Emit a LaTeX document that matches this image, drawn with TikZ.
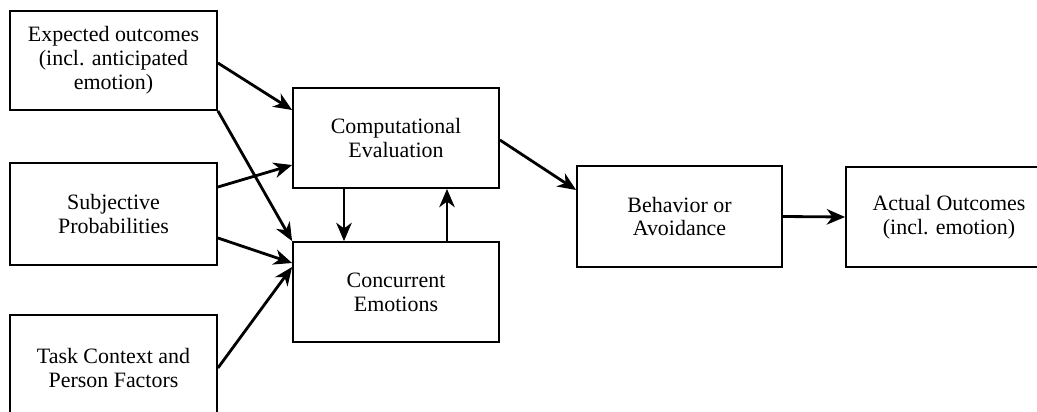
\documentclass[tikz,border=0pt]{standalone}
\usepackage{fontspec}
\setmainfont{Liberation Serif}
\usetikzlibrary{calc,arrows.meta}
\begin{document}
\begin{tikzpicture}[x=0.025cm,y=-0.025cm,
  box/.style={draw,line width=1.3pt,inner sep=0pt,align=center,font=\fontsize{15.6}{17}\selectfont},
  arr/.style={line width=2pt,-{Stealth[length=13pt,width=11pt,inset=4pt]}}]
\useasboundingbox (0,0) rectangle (1037,412);
\clip (0,0) rectangle (1037,412);
\node[box,minimum width=207*0.025cm,minimum height=99*0.025cm] (exp) at (113.5,60.5) {Expected outcomes\\(incl. anticipated\\emotion)};
\node[box,minimum width=207*0.025cm,minimum height=102*0.025cm] (subj) at (113.5,214) {Subjective\\Probabilities};
\node[box,minimum width=207*0.025cm,minimum height=106*0.025cm] (task) at (113.5,368) {Task Context and\\Person Factors};
\node[box,minimum width=206*0.025cm,minimum height=100*0.025cm] (comp) at (396,138) {Computational\\Evaluation};
\node[box,minimum width=206*0.025cm,minimum height=100*0.025cm] (conc) at (396,292) {Concurrent\\Emotions};
\node[box,minimum width=205*0.025cm,minimum height=101*0.025cm] (beh) at (679.5,216.5) {Behavior or\\Avoidance};
\node[box,minimum width=206*0.025cm,minimum height=100*0.025cm] (act) at (949,217) {Actual Outcomes\\(incl. emotion)};
\draw[arr] ($(exp.east)+(0,2.5)$) -- ($(comp.west)+(0,-28)$);
\draw[arr] (exp.south east) -- (conc.north west);
\draw[arr] ($(subj.east)+(0,-27)$) -- ($(comp.west)+(0,27)$);
\draw[arr] ($(subj.east)+(0,24)$) -- ($(conc.west)+(0,-29)$);
\draw[arr] (task.east) -- ($(conc.west)+(0,-25)$);
\draw[arr] ($(comp.south)+(-52,0)$) -- ($(conc.north)+(-52,0)$);
\draw[arr] ($(conc.north)+(51,0)$) -- ($(comp.south)+(51,0)$);
\draw[arr] ($(comp.east)+(0,2)$) -- ($(beh.west)+(0,-26.5)$);
\draw[arr] (beh.east) -- (act.west);
\end{tikzpicture}
\end{document}
